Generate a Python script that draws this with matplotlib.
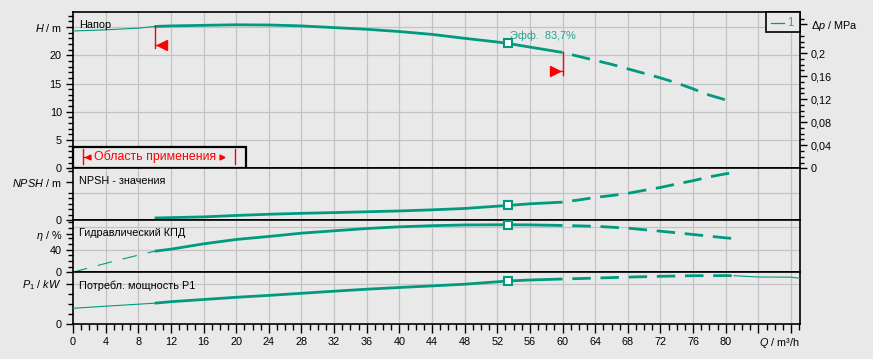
import matplotlib
matplotlib.use('Agg')
import matplotlib.pyplot as plt
import numpy as np
from matplotlib.patches import Rectangle
from matplotlib.lines import Line2D

plt.rcParams['font.family'] = ['Liberation Sans', 'DejaVu Sans']
plt.rcParams['mathtext.fontset'] = 'custom'
plt.rcParams['mathtext.rm'] = 'Liberation Sans'
plt.rcParams['mathtext.it'] = 'Liberation Sans:italic'
plt.rcParams['lines.scale_dashes'] = False

# ---------------- data ----------------
q_head = [0, 4, 8, 10, 12, 16, 20, 24, 28, 32, 36, 40, 44, 48, 52, 53.3, 56, 60,
          62, 64, 66, 68, 70, 72, 74, 76, 78, 80, 81]
head = [24.3, 24.5, 24.8, 25.1, 25.2, 25.3, 25.4, 25.36, 25.2, 24.9, 24.6, 24.2, 23.7,
        23.0, 22.35, 22.1, 21.45, 20.5, 19.8, 19.1, 18.4, 17.6, 16.8, 16.0, 15.1, 14.05,
        12.95, 12.1, 11.6]

q_npsh = [10, 16, 20, 24, 28, 32, 36, 40, 44, 48, 53.3, 56, 60, 62, 64, 66, 68, 70,
          72, 74, 76, 78, 80, 81]
npsh = [0.42, 0.62, 0.88, 1.1, 1.27, 1.4, 1.55, 1.7, 1.9, 2.15, 2.7, 3.0, 3.3, 3.7,
        4.15, 4.5, 4.9, 5.45, 5.97, 6.6, 7.2, 7.9, 8.45, 8.65]

q_eta = [0, 2, 4, 6, 8, 10, 12, 16, 20, 24, 28, 32, 36, 40, 44, 48, 53.3, 56, 60,
         64, 68, 72, 76, 80, 81]
eta = [0, 7.8, 15.5, 23, 30, 37, 40.6, 50, 57.7, 63, 68.8, 73, 77, 80, 82, 83.3, 83.7,
       83.4, 82.4, 81, 77.6, 72.3, 66.5, 60.5, 59.4]

q_pow = [0, 4, 8, 10, 12, 16, 20, 24, 28, 32, 36, 40, 44, 48, 53.3, 56, 60, 64, 68,
         72, 76, 80, 81, 84, 88, 89.1]
power = [1.54, 1.75, 1.95, 2.05, 2.2, 2.42, 2.64, 2.83, 3.04, 3.25, 3.45, 3.62, 3.78,
         3.95, 4.27, 4.37, 4.47, 4.56, 4.66, 4.74, 4.8, 4.81, 4.8, 4.67, 4.65, 4.55]

duty_q = 53.3
duty_vals = {'head': 22.1, 'npsh': 2.7, 'eta': 83.7, 'power': 4.27}
q_min_op, q_max_op = 10, 60
q_end = 81

x_ticks = list(range(0, 81, 4))
dp_ticks = [0, 0.04, 0.08, 0.12, 0.16, 0.2]
dp_labels = ['0', '0,04', '0,08', '0,12', '0,16', '0,2']

# ---------------- style ----------------
BG = '#e9e9e9'
TEAL = '#009a80'
GRID = '#c3c3c3'
RED = '#ff0000'
FS = 7.8
W, H = 873, 359
XMAX = 89.1

fig = plt.figure(figsize=(W / 100, H / 100), dpi=100, facecolor=BG)


def rect(top, bottom):
    return [73 / W, 1 - bottom / H, (800 - 73) / W, (bottom - top) / H]


ax_h = fig.add_axes(rect(12, 168.3))
ax_n = fig.add_axes(rect(168.3, 220.3))
ax_e = fig.add_axes(rect(220.3, 272.2))
ax_p = fig.add_axes(rect(272.2, 323.7))
axes = [ax_h, ax_n, ax_e, ax_p]

ylims = [27.66, 9.45, 91.5, 5.15]
hgrids = [[5, 10, 15, 20, 25], [5], [40, 80], [4]]

for ax, ytop, hg in zip(axes, ylims, hgrids):
    ax.set_facecolor(BG)
    ax.set_xlim(0, XMAX)
    ax.set_ylim(0, ytop)
    for s in ax.spines.values():
        s.set_color('black')
        s.set_linewidth(1.2)
    for xv in range(4, 89, 4):
        ax.axvline(xv, color=GRID, lw=0.9, zorder=0.5)
    for yv in hg:
        ax.axhline(yv, color=GRID, lw=0.9, zorder=0.5)
    ax.tick_params(axis='y', which='major', direction='out', length=5, width=1,
                   pad=3, labelsize=FS, right=False)
    ax.tick_params(axis='y', which='minor', direction='out', length=3.6, width=1,
                   right=False)
    ax.tick_params(axis='x', which='both', bottom=False, labelbottom=False)

# y ticks
ax_h.set_yticks([0, 5, 10, 15, 20, 25])
ax_h.set_yticklabels(['0', '5', '10', '15', '20', '$H$ / m'])
ax_h.set_yticks([v for v in range(1, 28) if v % 5], minor=True)

ax_n.set_yticks([0, 7])
ax_n.set_yticklabels(['0', '$NPSH$ / m'])
ax_n.set_yticks([1, 2, 3, 4, 5, 9], minor=True)

ax_e.set_yticks([0, 40, 68])
ax_e.set_yticklabels(['0', '40', r'$\eta$ / %'])
ax_e.set_yticks([10, 20, 30, 50, 60, 78, 88], minor=True)

ax_p.set_yticks([0, 4])
ax_p.set_yticklabels(['0', '$P_1$ / $kW$'])
ax_p.set_yticks([1, 2, 3], minor=True)

# x ticks on bottom
ax_p.tick_params(axis='x', which='major', bottom=True, labelbottom=True,
                 direction='out', length=6.5, width=1, pad=3.4, labelsize=FS)
ax_p.tick_params(axis='x', which='minor', bottom=True, direction='out',
                 length=4.3, width=1)
ax_p.set_xticks(x_ticks + [84, 88])
ax_p.set_xticklabels([str(v) for v in x_ticks] + ['', ''])
ax_p.set_xticks([v for v in range(0, 90) if v % 4], minor=True)
fig.text(800 / W, 1 - 343 / H, '$Q$ / m³/h', ha='right', va='center', fontsize=FS)

# right axis dp
ax_d = ax_h.twinx()
ax_d.set_ylim(0, ylims[0] * 0.00981)
ax_d.patch.set_visible(False)
for s in ax_d.spines.values():
    s.set_visible(False)
ax_d.set_yticks(dp_ticks + [0.25])
ax_d.set_yticklabels(dp_labels + [r'$\Delta p$ / MPa'])
ax_d.set_yticks([v / 100 for v in range(1, 27) if v % 4 and v != 25], minor=True)
ax_d.tick_params(axis='y', which='major', direction='out', length=4.8, width=1,
                 pad=3, labelsize=FS)
ax_d.tick_params(axis='y', which='minor', direction='out', length=3.1, width=1)


# ---------------- curves ----------------
def draw_curve(ax, q, v, thin_dashed_start=False, tail_thin=False):
    q = np.array(q, dtype=float)
    v = np.array(v, dtype=float)
    m0 = q <= q_min_op
    m1 = (q >= q_min_op) & (q <= q_max_op)
    m2 = (q >= q_max_op) & (q <= q_end)
    m3 = q >= q_end
    if m0.sum() > 1:
        ls = (0, (10.5, 8)) if thin_dashed_start else '-'
        ax.plot(q[m0], v[m0], color=TEAL, lw=0.8, ls=ls, zorder=3)
    ax.plot(q[m1], v[m1], color=TEAL, lw=2.0, zorder=3, solid_capstyle='butt')
    ax.plot(q[m2], v[m2], color=TEAL, lw=2.0, ls=(13.3, (13.3, 7.0)), zorder=3,
            dash_capstyle='butt')
    if tail_thin and m3.sum() > 1:
        ax.plot(q[m3], v[m3], color=TEAL, lw=0.8, zorder=3)


draw_curve(ax_h, q_head, head)
draw_curve(ax_n, q_npsh, npsh)
draw_curve(ax_e, q_eta, eta, thin_dashed_start=True)
draw_curve(ax_p, q_pow, power, tail_thin=True)

for ax, key in zip(axes, ['head', 'npsh', 'eta', 'power']):
    ax.plot([duty_q], [duty_vals[key]], marker='s', ms=6, mfc='white', mec=TEAL,
            mew=1.5, zorder=6, clip_on=False)

ax_h.text(53.6, 23.45, 'Эфф.  83,7%', color='#25a290', fontsize=FS, ha='left',
          va='center', zorder=7)

# panel titles
titles = ['Напор', 'NPSH - значения', 'Гидравлический КПД', 'Потребл. мощность P1']
title_y = [0.917, 0.756, 0.761, 0.738]
for ax, t, ty in zip(axes, titles, title_y):
    ax.text(0.0085, ty, t, transform=ax.transAxes, fontsize=FS, ha='left',
            va='center', color='black', zorder=7)

# operating range markers
ax_h.plot([q_min_op, q_min_op], [25.1, 21.3], color=RED, lw=1, zorder=5)
ax_h.plot([q_min_op, 10.6], [21.85, 21.85], color=RED, lw=1, zorder=5)
ax_h.plot([10.95], [21.85], marker='<', ms=6.5, color=RED, zorder=5)
ax_h.plot([q_max_op, q_max_op], [20.5, 16.5], color=RED, lw=1, zorder=5)
ax_h.plot([59.4, q_max_op], [17.2, 17.2], color=RED, lw=1, zorder=5)
ax_h.plot([59.05], [17.2], marker='>', ms=6.5, color=RED, zorder=5)

# "Область применения" box
ax_h.add_patch(Rectangle((0, 0), 21.2, 3.8, facecolor=BG, edgecolor='black',
                         lw=1.6, zorder=8, clip_on=False))
ax_h.text(10.0, 2.0, 'Область применения', color=RED, fontsize=8.9, ha='center',
          va='center', zorder=9)
for xb in (1.2, 19.85):
    ax_h.plot([xb, xb], [0.76, 3.36], color=RED, lw=1, zorder=9)
ax_h.plot([1.2, 1.6], [2.05, 2.05], color=RED, lw=1, zorder=9)
ax_h.plot([1.85], [2.05], marker='<', ms=3.5, color=RED, zorder=9)
ax_h.plot([18.3], [2.05], marker='>', ms=3.5, color=RED, zorder=9)

# legend box
lx0, lx1, ly0, ly1 = 765.7, 799.5, 12, 32.3
fig.patches.append(Rectangle((lx0 / W, 1 - ly1 / H), (lx1 - lx0) / W, (ly1 - ly0) / H,
                             transform=fig.transFigure, facecolor=BG,
                             edgecolor='black', lw=1.2, zorder=10))
fig.lines.append(Line2D([770.7 / W, 784 / W], [1 - 23.3 / H, 1 - 23.3 / H],
                        transform=fig.transFigure, color=TEAL, lw=0.9, zorder=11))
fig.text(787.5 / W, 1 - 23 / H, '1', color='#3f9f90', fontsize=FS + 0.5,
         ha='left', va='center', zorder=11)

fig.savefig('out.png', dpi=100, facecolor=BG)
